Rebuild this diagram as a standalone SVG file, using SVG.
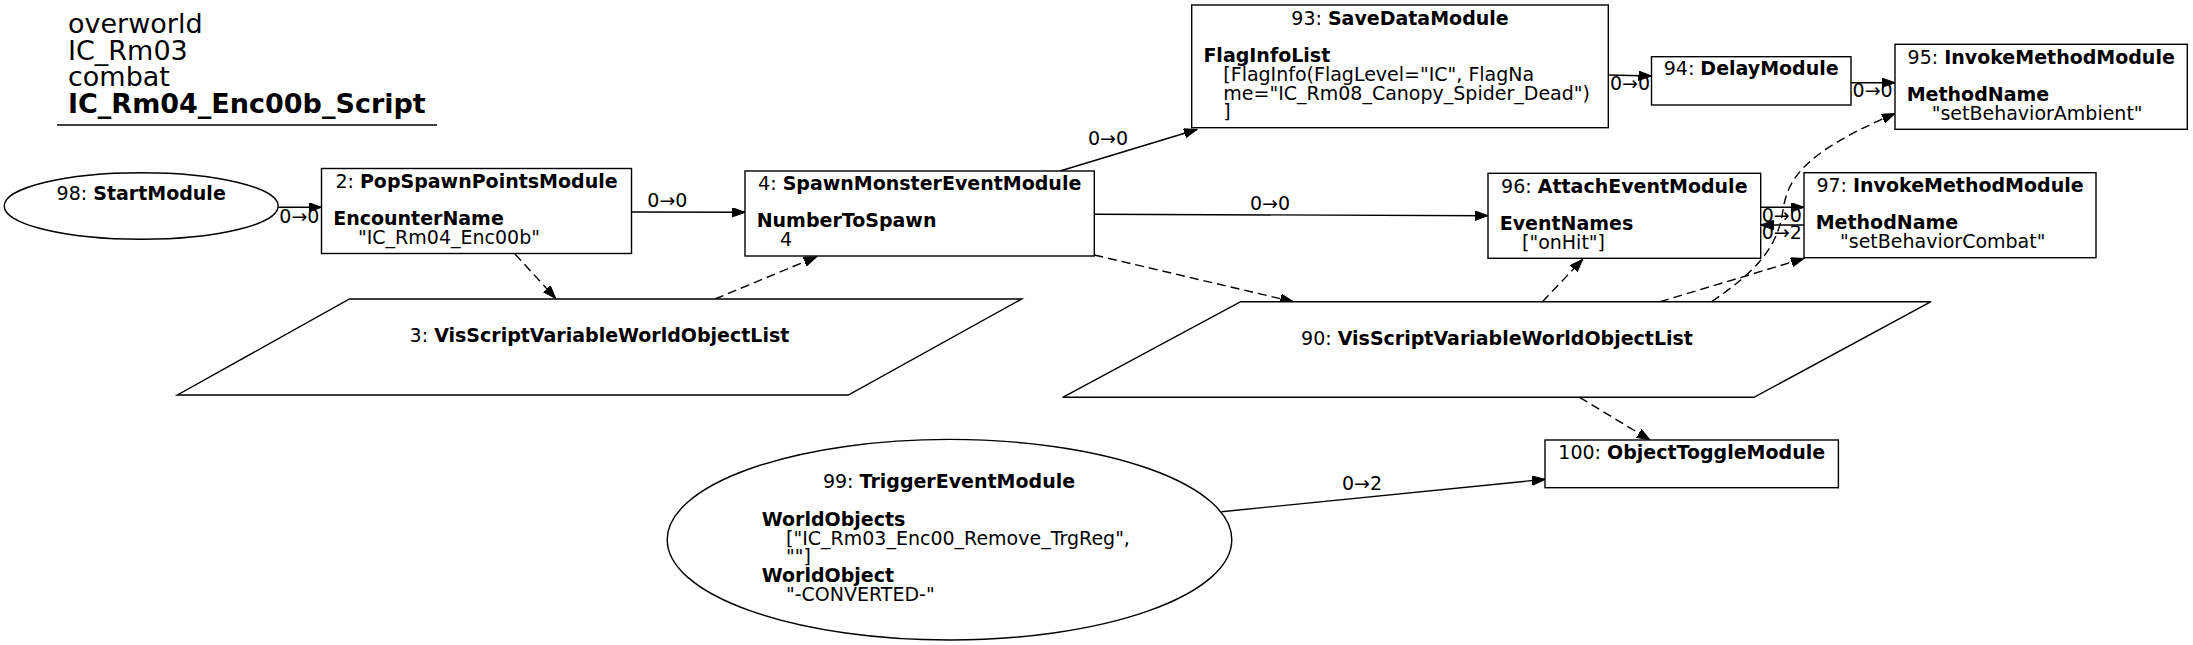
<svg xmlns="http://www.w3.org/2000/svg" width="2193" height="645" viewBox="0 0 2193 645">
<style>
text{font-family:"DejaVu Sans","Liberation Sans",sans-serif;font-size:19px;fill:#000}
.t{font-size:27px}
.b{font-weight:bold}
.m{text-anchor:middle}
.n{fill:#fff;stroke:#000;stroke-width:1.4}
.e{fill:none;stroke:#000;stroke-width:1.4;marker-end:url(#ah)}
.d{stroke-dasharray:9,5}
</style>
<defs>
<marker id="ah" markerWidth="14" markerHeight="10" refX="13" refY="4.7" orient="auto" markerUnits="userSpaceOnUse">
<path d="M0,0 L13,4.7 L0,9.4 z" fill="#000" stroke="#000" stroke-width="1" stroke-dasharray="none"/>
</marker>
</defs>
<rect width="2193" height="645" fill="#fff"/>
<g id="title">
<text class="t" x="68" y="33">overworld</text>
<text class="t" x="68" y="59.7">IC_Rm03</text>
<text class="t" x="68" y="86.4">combat</text>
<text class="t b" x="68" y="113">IC_Rm04_Enc00b_Script</text>
<line x1="57" y1="125" x2="437" y2="125" stroke="#000" stroke-width="1.4"/>
</g>
<g id="connectors">
<path class="e" d="M278.5,207.3 L321.5,207.3"/>
<text x="279.3" y="223">0→0</text>
<path class="e" d="M631.5,212 L745,212.3"/>
<text x="647.3" y="206.7">0→0</text>
<path class="e d" d="M515,254 L555.6,298.3"/>
<path class="e d" d="M715,299 L816.7,256.7"/>
<path class="e" d="M1060,171 L1197,129.5"/>
<text x="1088" y="145">0→0</text>
<path class="e" d="M1094.3,214.3 L1488,215.7"/>
<text x="1250" y="210">0→0</text>
<path class="e d" d="M1094.3,255 L1293.3,301.7"/>
<path class="e" d="M1608.3,75 L1651.5,76"/>
<text x="1610" y="90">0→0</text>
<path class="e" d="M1851,82.7 L1895,82.7"/>
<text x="1852.6" y="96.7">0→0</text>
<path class="e" d="M1760.7,207.3 L1804,207.3"/>
<text x="1761.7" y="221.7">0→0</text>
<path class="e" d="M1804,225 L1760.7,225"/>
<text x="1761.7" y="239.3">0→2</text>
<path class="e d" d="M1542.4,301.7 L1582.7,259.3"/>
<path class="e d" d="M1660,301.7 L1804,258.5"/>
<path class="e d" d="M1711.7,301.7 C1755,272 1778,248 1783,210 C1788,175 1810,150 1895,113.5"/>
<path class="e d" d="M1579.5,397.3 L1650,440"/>
<path class="e" d="M1221.4,511.7 L1545,479.3"/>
<text x="1342" y="490">0→2</text>
</g>
<g id="node98">
<ellipse class="n" cx="141.2" cy="206" rx="137" ry="33.3"/>
<text class="m" x="141.2" y="200">98: <tspan class="b">StartModule</tspan></text>
</g>
<g id="node2">
<rect class="n" x="321.5" y="168.5" width="310" height="85"/>
<text class="m" x="476.5" y="187.5">2: <tspan class="b">PopSpawnPointsModule</tspan></text>
<text class="b" x="333.2" y="224.8">EncounterName</text>
<text x="358" y="243.5">"IC_Rm04_Enc00b"</text>
</g>
<g id="node3">
<polygon class="n" points="349.5,299 1021.7,299 848.3,395 177.4,395"/>
<text class="m" x="599.5" y="342">3: <tspan class="b">VisScriptVariableWorldObjectList</tspan></text>
</g>
<g id="node4">
<rect class="n" x="745" y="171" width="349.3" height="85"/>
<text class="m" x="919.7" y="190">4: <tspan class="b">SpawnMonsterEventModule</tspan></text>
<text class="b" x="756.7" y="227.3">NumberToSpawn</text>
<text x="780" y="246">4</text>
</g>
<g id="node93">
<rect class="n" x="1191.7" y="5" width="416.6" height="122.7"/>
<text class="m" x="1400" y="24.5">93: <tspan class="b">SaveDataModule</tspan></text>
<text class="b" x="1203.4" y="61.5">FlagInfoList</text>
<text x="1223.3" y="80.5">[FlagInfo(FlagLevel="IC", FlagNa</text>
<text x="1223.3" y="99.5">me="IC_Rm08_Canopy_Spider_Dead")</text>
<text x="1223.3" y="118.3">]</text>
</g>
<g id="node94">
<rect class="n" x="1651.5" y="56.7" width="199.5" height="48.3"/>
<text class="m" x="1751.2" y="75">94: <tspan class="b">DelayModule</tspan></text>
</g>
<g id="node95">
<rect class="n" x="1895" y="44.3" width="292.3" height="85"/>
<text class="m" x="2041.2" y="63.5">95: <tspan class="b">InvokeMethodModule</tspan></text>
<text class="b" x="1906.7" y="100.8">MethodName</text>
<text x="1931.7" y="119.5">"setBehaviorAmbient"</text>
</g>
<g id="node96">
<rect class="n" x="1488" y="173.3" width="272.7" height="85"/>
<text class="m" x="1624.3" y="192.5">96: <tspan class="b">AttachEventModule</tspan></text>
<text class="b" x="1499.7" y="229.8">EventNames</text>
<text x="1522" y="248.5">["onHit"]</text>
</g>
<g id="node97">
<rect class="n" x="1804" y="172.7" width="292" height="85"/>
<text class="m" x="1950" y="191.7">97: <tspan class="b">InvokeMethodModule</tspan></text>
<text class="b" x="1815.7" y="229">MethodName</text>
<text x="1840" y="247.7">"setBehaviorCombat"</text>
</g>
<g id="node90">
<polygon class="n" points="1240.7,301.7 1931,301.7 1754,397.3 1062.7,397.3"/>
<text class="m" x="1497" y="344.5">90: <tspan class="b">VisScriptVariableWorldObjectList</tspan></text>
</g>
<g id="node99">
<ellipse class="n" cx="949.5" cy="539.7" rx="282.3" ry="100.3"/>
<text class="m" x="949" y="488.3">99: <tspan class="b">TriggerEventModule</tspan></text>
<text class="b" x="761.7" y="526">WorldObjects</text>
<text x="786" y="544.7">["IC_Rm03_Enc00_Remove_TrgReg",</text>
<text x="786" y="563.4">""]</text>
<text class="b" x="761.7" y="582">WorldObject</text>
<text x="786" y="600.7">"-CONVERTED-"</text>
</g>
<g id="node100">
<rect class="n" x="1545" y="440" width="293.4" height="47.7"/>
<text class="m" x="1691.7" y="458.5">100: <tspan class="b">ObjectToggleModule</tspan></text>
</g>
</svg>
